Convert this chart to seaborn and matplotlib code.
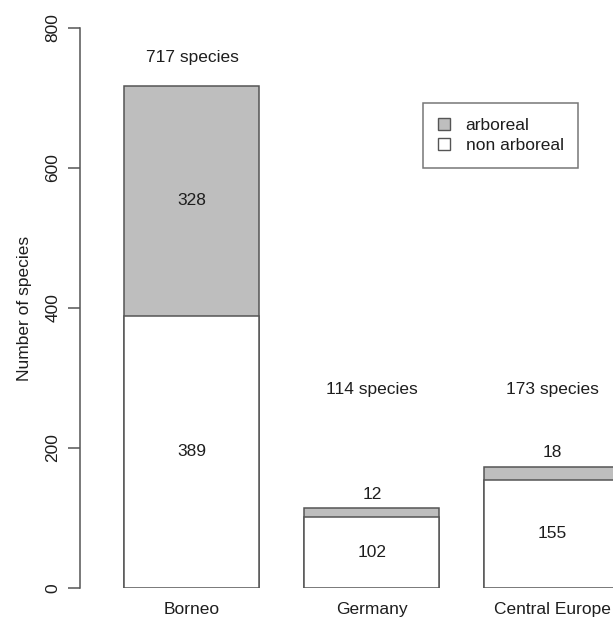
import matplotlib
matplotlib.use("Agg")
import matplotlib.pyplot as plt
from matplotlib.patches import Patch
import seaborn as sns

sns.set_theme(style="ticks")
plt.rcParams["font.family"] = ["Liberation Sans", "DejaVu Sans"]

# data
regions = ["Borneo", "Germany", "Central Europe"]
non_arboreal = [389, 102, 155]
arboreal = [328, 12, 18]
totals = [a + b for a, b in zip(non_arboreal, arboreal)]
y_ticks = [0, 200, 400, 600, 800]

# where the "... species" notes sit (y in data units)
species_note_y = [758, 283, 283]

GREY = "#bebebe"
EDGE = "#555555"
INK = "#1e1e1e"
FS = 12.5


def species_chart():

    fig = plt.figure(figsize=(6.13, 6.21), dpi=100)
    ax = fig.add_axes([80 / 613, 33 / 621, 533 / 613, 560 / 621])

    # full height in grey, non arboreal part drawn over it in white
    sns.barplot(
        x=regions, y=totals, color=GREY, saturation=1,
        edgecolor=EDGE, linewidth=1.1, width=0.75, ax=ax
    )
    sns.barplot(
        x=regions, y=non_arboreal, color="white", saturation=1,
        edgecolor=EDGE, linewidth=1.1, width=0.75, ax=ax
    )

    for i, region in enumerate(regions):
        ax.text(i, non_arboreal[i] / 2, str(non_arboreal[i]),
                ha="center", va="center", fontsize=FS, color=INK)
        if arboreal[i] > 50:
            y_arb = non_arboreal[i] + arboreal[i] / 2
        else:
            y_arb = totals[i] + 20
        ax.text(i, y_arb, str(arboreal[i]),
                ha="center", va="center", fontsize=FS, color=INK)
        ax.text(i, species_note_y[i], f"{totals[i]} species",
                ha="center", va="center", fontsize=FS, color=INK)

    ax.set_xlim(-0.622, 2.339)
    ax.set_ylim(0, 800)
    ax.set_yticks(y_ticks)
    ax.set_yticklabels([str(v) for v in y_ticks])

    sns.despine(ax=ax, bottom=True)
    ax.spines["left"].set_color(EDGE)
    ax.spines["left"].set_linewidth(1.1)

    ax.tick_params(axis="y", labelrotation=90, length=9, width=1.1,
                   color=EDGE, pad=5, labelsize=FS, labelcolor=INK)
    ax.tick_params(axis="x", length=0, pad=10, labelsize=FS, labelcolor=INK)
    for lab in ax.get_yticklabels():
        lab.set_va("center")

    ax.set_xlabel("")
    ax.set_ylabel("Number of species", fontsize=FS, color=INK)
    ax.yaxis.set_label_coords(-0.09, 0.5)

    handles = [
        Patch(facecolor=GREY, edgecolor=EDGE, linewidth=1.0, label="arboreal"),
        Patch(facecolor="white", edgecolor=EDGE, linewidth=1.0, label="non arboreal"),
    ]
    leg = fig.legend(
        handles=handles, loc="upper left",
        bbox_to_anchor=(423 / 613, 1 - 103 / 621),
        fontsize=FS, frameon=True, fancybox=False,
        handlelength=0.7, handleheight=0.7, handletextpad=0.9,
        borderpad=0.85, labelspacing=0.3, borderaxespad=0
    )
    leg.get_frame().set_edgecolor(EDGE)
    leg.get_frame().set_linewidth(1.1)
    for t in leg.get_texts():
        t.set_color(INK)

    fig.savefig("out.png", dpi=100)
    plt.close(fig)


species_chart()
